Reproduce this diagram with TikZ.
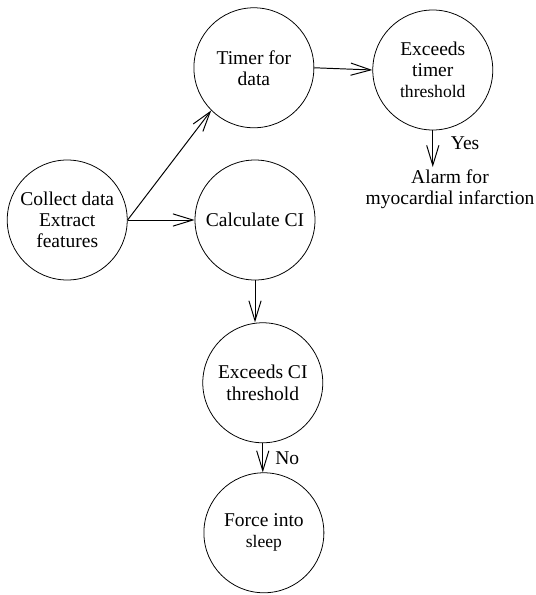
\documentclass[tikz,border=0pt]{standalone}
\usepackage{fontspec}
\setmainfont{Liberation Serif}
\usepackage{tikz}
\usetikzlibrary{arrows.meta, positioning}

\begin{document}
\begin{tikzpicture}[
    state/.style={
        circle,
        draw,
        align=center,
        minimum size=21.6mm,
        inner sep=0pt,
        font=\fontsize{10}{10.8}\selectfont
    },
    plain/.style={
        align=center,
        inner sep=1pt,
        font=\fontsize{10}{10.8}\selectfont
    },
    arrow/.style={-{Straight Barb[length=3.6mm, width=2.2mm]}, line width=0.5pt},
    lbl/.style={font=\fontsize{10}{10.8}\selectfont}
]
\useasboundingbox (0,0) rectangle (9.63,-10.71);

% --- left ---
\node[state] (collect) at (1.21,-3.96) {Collect data\\Extract\\features};

% --- top row ---
\node[state] (timer)    at (4.57,-1.22) {Timer for\\data};
\node[state] (exctimer) at (7.79,-1.26) {Exceeds\\timer\\{\small threshold}};
\node[plain] (alarm)    at (8.10,-3.40) {Alarm for\\myocardial infarction};

% --- middle column ---
\node[state] (calc)  at (4.59,-3.96) {Calculate CI};
\node[state] (excci) at (4.73,-6.89) {Exceeds CI\\threshold};
\node[state] (sleep) at (4.75,-9.59) {Force into\\{\small sleep}};

% --- arrows ---
\draw[arrow] (collect.east) -- (timer.south west);
\draw[arrow] (collect.east) -- (calc.west);
\draw[arrow] (timer.east) -- (exctimer.west);

\draw[arrow] (exctimer.south) -- (exctimer.south |- alarm.north)
    node[midway, right, lbl, xshift=2mm, yshift=1mm] {Yes};

\draw[arrow] (calc.south) -- (calc.south |- excci.north);

\draw[arrow] (excci.south) -- (excci.south |- sleep.north)
    node[midway, right, lbl, xshift=1mm] {No};

\end{tikzpicture}
\end{document}
